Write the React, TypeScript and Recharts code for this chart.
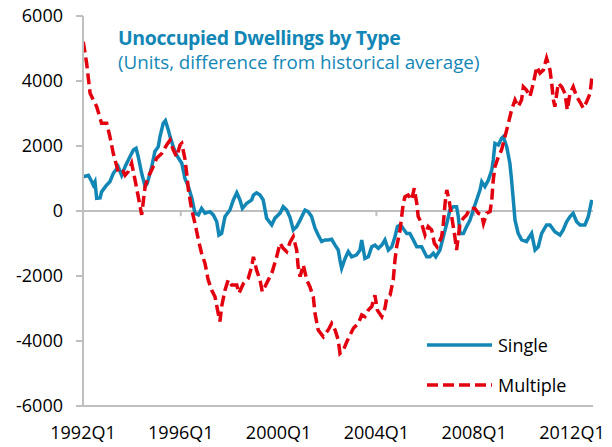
import React from "react";
import { LineChart, Line, XAxis, YAxis, ReferenceLine } from "recharts";

// Time in decimal years (1992.0 = 1992Q1)
const singleT = [
  1992.01, 1992.22, 1992.36, 1992.42, 1992.49, 1992.56, 1992.7, 1992.76, 1992.97, 1993.1,
  1993.24, 1993.44, 1993.58, 1993.72, 1993.92, 1994.06, 1994.17, 1994.26, 1994.4, 1994.54,
  1994.63, 1994.81, 1994.94, 1995.08, 1995.15, 1995.28, 1995.37, 1995.49, 1995.56, 1995.69,
  1995.83, 1996.04, 1996.17, 1996.31, 1996.45, 1996.58, 1996.72, 1996.85, 1996.99, 1997.19,
  1997.33, 1997.47, 1997.56, 1997.67, 1997.81, 1998.01, 1998.15, 1998.29, 1998.42, 1998.52,
  1998.7, 1998.9, 1998.97, 1999.1, 1999.24, 1999.37, 1999.51, 1999.72, 1999.85, 2000.06,
  2000.19, 2000.33, 2000.47, 2000.6, 2000.74, 2000.88, 2001.08, 2001.21, 2001.35, 2001.49,
  2001.62, 2001.76, 2001.9, 2002.03, 2002.17, 2002.31, 2002.44, 2002.51, 2002.58, 2002.72,
  2002.85, 2002.99, 2003.19, 2003.33, 2003.4, 2003.53, 2003.67, 2003.81, 2003.94, 2004.08,
  2004.22, 2004.35, 2004.49, 2004.63, 2004.76, 2004.86, 2004.97, 2005.04, 2005.24, 2005.37,
  2005.51, 2005.65, 2005.85, 2006.06, 2006.19, 2006.33, 2006.43, 2006.6, 2006.74, 2006.88,
  2007.01, 2007.15, 2007.28, 2007.35, 2007.42, 2007.56, 2007.69, 2007.83, 2007.96, 2008.1,
  2008.24, 2008.31, 2008.44, 2008.58, 2008.72, 2008.78, 2008.85, 2008.99, 2009.12, 2009.19,
  2009.33, 2009.46, 2009.53, 2009.6, 2009.67, 2009.8, 2009.94, 2010.14, 2010.35, 2010.49,
  2010.62, 2010.76, 2010.96, 2011.1, 2011.3, 2011.51, 2011.64, 2011.78, 2011.92, 2012.05,
  2012.19, 2012.33, 2012.53, 2012.67, 2012.81,
];
const singleV = [
  1055, 1100, 900, 800, 900, 390, 400, 590, 800, 900,
  1160, 1360, 1100, 1360, 1670, 1880, 1930, 1670, 1160, 750,
  850, 1360, 1830, 1980, 2290, 2700, 2780, 2490, 2290, 1980,
  1720, 1470, 1000, 750, 400, -70, -120, 80, -70, -20,
  -120, -330, -740, -690, -170, 30, 340, 560, 340, 80,
  240, 340, 490, 560, 490, 340, -220, -430, -220, -70,
  130, 30, -200, -580, -480, -280, 30, -20, -170, -530,
  -740, -940, -890, -890, -870, -1050, -1200, -1510, -1760, -1460,
  -1250, -1410, -1350, -1200, -890, -1460, -1410, -1100, -1050, -1150,
  -1050, -890, -1200, -1100, -790, -480, -430, -480, -690, -690,
  -890, -1100, -1100, -1410, -1410, -1300, -1410, -1200, -790, -380,
  30, 130, 130, -170, -690, -690, -480, -280, 30, 340,
  650, 900, 750, 950, 1260, 1570, 2080, 2030, 2240, 2290,
  1980, 1470, 950, 340, -280, -690, -890, -940, -690, -1200,
  -1100, -690, -430, -430, -640, -740, -580, -330, -170, -70,
  -330, -430, -430, -170, 340,
];

const multiT = [
  1992.01, 1992.15, 1992.29, 1992.42, 1992.56, 1992.76, 1992.97, 1993.1, 1993.24, 1993.44,
  1993.58, 1993.65, 1993.72, 1993.85, 1993.99, 1994.13, 1994.26, 1994.4, 1994.54, 1994.67,
  1994.81, 1995.01, 1995.22, 1995.42, 1995.56, 1995.69, 1995.83, 1995.97, 1996.04, 1996.17,
  1996.24, 1996.31, 1996.45, 1996.58, 1996.72, 1996.85, 1996.99, 1997.12, 1997.26, 1997.4,
  1997.53, 1997.6, 1997.67, 1997.81, 1997.94, 1998.08, 1998.29, 1998.38, 1998.56, 1998.76,
  1998.9, 1998.97, 1999.1, 1999.24, 1999.33, 1999.44, 1999.58, 1999.74, 1999.92, 2000.06,
  2000.19, 2000.33, 2000.47, 2000.6, 2000.74, 2000.8, 2000.88, 2001.01, 2001.15, 2001.28,
  2001.42, 2001.49, 2001.62, 2001.83, 2002.03, 2002.17, 2002.31, 2002.44, 2002.51, 2002.65,
  2002.79, 2002.92, 2003.06, 2003.26, 2003.4, 2003.53, 2003.67, 2003.81, 2003.94, 2004.04,
  2004.22, 2004.35, 2004.42, 2004.56, 2004.69, 2004.76, 2004.83, 2004.97, 2005.1, 2005.17,
  2005.3, 2005.44, 2005.55, 2005.65, 2005.71, 2005.85, 2005.99, 2006.12, 2006.26, 2006.37,
  2006.48, 2006.67, 2006.74, 2006.81, 2006.88, 2006.97, 2007.08, 2007.21, 2007.28, 2007.42,
  2007.56, 2007.69, 2007.83, 2008.03, 2008.17, 2008.31, 2008.38, 2008.51, 2008.65, 2008.72,
  2008.78, 2008.85, 2008.99, 2009.12, 2009.26, 2009.4, 2009.53, 2009.67, 2009.8, 2009.94,
  2010.01, 2010.14, 2010.28, 2010.42, 2010.56, 2010.69, 2010.83, 2010.96, 2011.1, 2011.17,
  2011.24, 2011.3, 2011.44, 2011.58, 2011.71, 2011.81, 2011.92, 2012.05, 2012.19, 2012.36,
  2012.46, 2012.6, 2012.74, 2012.81,
];
const multiV = [
  5210, 4540, 3620, 3420, 3210, 2700, 2700, 2290, 1770, 1210,
  1160, 1210, 1100, 1210, 1470, 950, 440, -120, 750, 1060,
  1260, 1620, 1770, 2030, 2180, 1880, 1670, 2030, 2080, 1600,
  1160, 650, 30, -380, -890, -1300, -1610, -2120, -2430, -2640,
  -3150, -3400, -2940, -2430, -2120, -2280, -2280, -2530, -2230, -2070,
  -1710, -1410, -1820, -2120, -2480, -2330, -2120, -1870, -1410, -990,
  -1150, -1250, -960, -790, -1200, -1710, -2020, -1660, -2120, -2330,
  -2640, -3150, -3660, -3870, -3660, -3460, -3660, -3970, -4380, -4280,
  -4020, -3820, -3610, -3460, -3200, -3250, -3050, -2940, -2590, -3050,
  -3250, -2990, -2690, -2590, -2120, -1510, -1100, -580, 240, 440,
  490, 340, 700, 240, -170, -380, -740, -480, -580, -990,
  -1100, -790, -380, 240, 650, 340, -170, -790, -1200, -380,
  -220, -120, 80, 80, -70, -120, -380, -70, -20, 340,
  950, 1360, 1670, 1880, 2290, 2700, 3110, 3420, 3210, 3420,
  3820, 3720, 3520, 3930, 4440, 4240, 4340, 4700, 4340, 3930,
  3420, 3210, 3930, 3820, 3620, 3110, 3620, 3820, 3520, 3310,
  3160, 3360, 3620, 4080,
];

const xTicks = [1992, 1996, 2000, 2004, 2008, 2012];
const yTicks = [-6000, -4000, -2000, 0, 2000, 4000, 6000];
const titleText = "Unoccupied Dwellings by Type";
const subtitleText = "(Units, difference from historical average)";
const seriesNames = ["Single", "Multiple"];

const singleData = singleT.map((t, i) => ({ t, v: singleV[i] }));
const multiData = multiT.map((t, i) => ({ t, v: multiV[i] }));

const BLUE = "#1287b6";
const RED = "#e3000f";
const GRAY = "#bfbfbf";
const FONT = "'Open Sans', 'Noto Sans', sans-serif";

export default function App() {
  return (
    <div style={{ position: "absolute", left: 0, top: 0, width: 612, height: 447, background: "#fff" }}>
      <LineChart width={612} height={447} margin={{ top: 16, right: 19, bottom: 0, left: 0 }}>
        <XAxis
          dataKey="t"
          type="number"
          domain={[1992, 2012.86]}
          ticks={xTicks}
          allowDataOverflow
          tickFormatter={(v: number) => `${v}Q1`}
          height={41}
          tickSize={0}
          tickMargin={20}
          axisLine={{ stroke: GRAY, strokeWidth: 2 }}
          tick={{ fill: "#000", fontSize: 18, fontFamily: FONT }}
          interval={0}
        />
        <XAxis xAxisId="top" orientation="top" dataKey="t" type="number" domain={[1992, 2012.86]} height={0} tick={false} tickLine={false} axisLine={{ stroke: GRAY, strokeWidth: 2 }} />
        <YAxis
          domain={[-6000, 6000]}
          ticks={yTicks}
          width={83}
          tickSize={7}
          tickMargin={13}
          interval={0}
          axisLine={{ stroke: GRAY, strokeWidth: 2 }}
          tickLine={{ stroke: GRAY, strokeWidth: 2 }}
          tick={{ fill: "#000", fontSize: 18, fontFamily: FONT }}
        />
        <YAxis yAxisId="right" orientation="right" domain={[-6000, 6000]} width={0} tick={false} tickLine={false} axisLine={{ stroke: GRAY, strokeWidth: 2 }} />
        <ReferenceLine y={0} stroke={GRAY} strokeWidth={2} />
        {xTicks.slice(1).map((t) => (
          <ReferenceLine
            key={t}
            segment={[{ x: t, y: 0 }, { x: t, y: -160 }]}
            stroke={GRAY}
            strokeWidth={2}
          />
        ))}
        <Line
          data={singleData}
          dataKey="v"
          name="Single"
          type="linear"
          stroke={BLUE}
          strokeWidth={3.5}
          dot={false}
          isAnimationActive={false}
        />
        <Line
          data={multiData}
          dataKey="v"
          name="Multiple"
          type="linear"
          stroke={RED}
          strokeWidth={3.5}
          strokeDasharray="11 5"
          dot={false}
          isAnimationActive={false}
        />
      </LineChart>
      <div style={{ position: "absolute", left: 426, top: 325, fontFamily: FONT, fontSize: 18, color: "#000" }}>
        {seriesNames.map((name, i) => (
          <div key={name} style={{ display: "flex", alignItems: "center", height: 40 }}>
            <svg width={72} height={10}>
              <line
                x1={1}
                y1={5}
                x2={66}
                y2={5}
                stroke={i === 0 ? BLUE : RED}
                strokeWidth={3.5}
                strokeDasharray={i === 0 ? undefined : "11 5"}
              />
            </svg>
            <span>{name}</span>
          </div>
        ))}
      </div>
      <div
        style={{
          position: "absolute",
          left: 118,
          top: 27,
          fontFamily: FONT,
          fontSize: 19.5,
          fontWeight: 700,
          color: BLUE,
          lineHeight: "22px",
          whiteSpace: "nowrap",
          letterSpacing: -0.4,
        }}
      >
        {titleText}
      </div>
      <div
        style={{
          position: "absolute",
          left: 118,
          top: 51,
          fontFamily: FONT,
          fontSize: 18.8,
          color: BLUE,
          lineHeight: "22px",
          whiteSpace: "nowrap",
        }}
      >
        {subtitleText}
      </div>
    </div>
  );
}
